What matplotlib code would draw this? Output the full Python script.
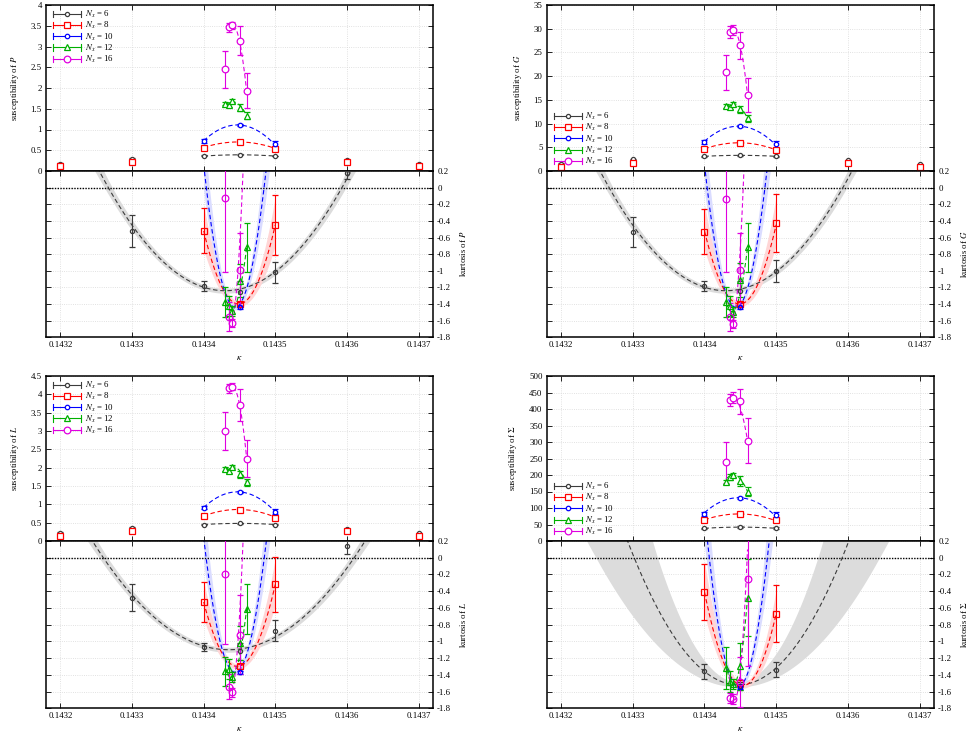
import numpy as np
import matplotlib
matplotlib.use("Agg")
import matplotlib.pyplot as plt
from matplotlib.lines import Line2D
from matplotlib.legend_handler import HandlerBase
from matplotlib.ticker import FixedLocator, FormatStrFormatter

plt.rcParams['font.family'] = ['Liberation Serif', 'DejaVu Serif']
plt.rcParams['mathtext.fontset'] = 'stix'
plt.rcParams['axes.unicode_minus'] = False
plt.rcParams['axes.linewidth'] = 1.1

nan = float("nan")

# ---------------- data ----------------
NX = [6, 8, 10, 12, 16]
K_WIDE = [0.1432, 0.1433, 0.1434, 0.14345, 0.1435, 0.1436, 0.1437]
K_MID = [0.1434, 0.14345, 0.1435]
K_FINE = [0.14343, 0.143435, 0.14344, 0.14345, 0.14346]
XTICKS = [0.1432, 0.1433, 0.1434, 0.1435, 0.1436, 0.1437]
KURT_TICKS = [0.2, 0.0, -0.2, -0.4, -0.6, -0.8, -1.0, -1.2, -1.4, -1.6, -1.8]

# --- P ---
P_SUS_6 = [0.177, 0.297, 0.369, 0.394, 0.361, 0.265, 0.169]
P_SUS_6_ERR = [0.01, 0.012, 0.01, 0.01, 0.01, 0.01, 0.01]
P_SUS_8 = [0.11, 0.22, 0.56, 0.70, 0.54, 0.225, 0.11]
P_SUS_8_ERR = [0.01, 0.02, 0.03, 0.03, 0.03, 0.02, 0.01]
P_SUS_10 = [0.72, 1.11, 0.66]
P_SUS_10_ERR = [0.05, 0.02, 0.07]
P_SUS_12 = [1.62, 1.58, 1.69, 1.53, 1.33]
P_SUS_12_ERR = [0.04, 0.04, 0.04, 0.08, 0.08]
P_SUS_16 = [2.45, 3.46, 3.51, 3.14, 1.93]
P_SUS_16_ERR = [0.44, 0.10, 0.08, 0.35, 0.42]
P_KURT_6 = [nan, -0.52, -1.18, -1.25, -1.02, 0.18, nan]
P_KURT_6_ERR = [0, 0.19, 0.06, 0.13, 0.13, 0.08, 0]
P_KURT_8 = [nan, nan, -0.52, -1.40, -0.45, nan, nan]
P_KURT_8_ERR = [0, 0, 0.27, 0.03, 0.36, 0, 0]
P_KURT_10 = [nan, -1.44, nan]
P_KURT_10_ERR = [0, 0.02, 0]
P_KURT_12 = [-1.38, -1.42, -1.48, -1.12, -0.72]
P_KURT_12_ERR = [0.18, 0.12, 0.06, 0.20, 0.29]
P_KURT_16 = [-0.12, -1.55, -1.63, -0.99, nan]
P_KURT_16_ERR = [0.90, 0.17, 0.05, 0.45, 0]
P_SFIT_KC = [0.14345, 0.143448, 0.143447, 0.14344, 0.14344]
P_SFIT_PEAK = [0.39, 0.70, 1.11, 1.67, 3.53]
P_SFIT_W = [1.8e-4, 1.1e-4, 8.0e-5, 4.5e-5, 2.96e-5]
P_KFIT_KC = [0.14343, 0.143449, 0.143444, 0.143438, 0.143438]
P_KFIT_MIN = [-1.24, -1.40, -1.44, -1.48, -1.63]
P_KFIT_W = [1.63e-4, 6.18e-5, 4.03e-5, 3.07e-5, 1.6e-5]
P_BAND_WLO = [1.575e-4, 5.3e-5, 3.6e-5]
P_BAND_WHI = [1.685e-4, 7.1e-5, 4.46e-5]

# --- G ---
G_SUS_6 = [1.55, 2.5, 3.1, 3.3, 3.1, 2.25, 1.4]
G_SUS_6_ERR = [0.1, 0.1, 0.1, 0.1, 0.1, 0.1, 0.1]
G_SUS_8 = [0.85, 1.76, 4.65, 5.9, 4.44, 1.76, 0.85]
G_SUS_8_ERR = [0.1, 0.15, 0.3, 0.3, 0.3, 0.15, 0.1]
G_SUS_10 = [6.1, 9.44, 5.6]
G_SUS_10_ERR = [0.5, 0.2, 0.7]
G_SUS_12 = [13.7, 13.4, 14.2, 13.0, 11.1]
G_SUS_12_ERR = [0.4, 0.4, 0.4, 0.8, 0.7]
G_SUS_16 = [20.8, 29.3, 29.7, 26.5, 16.1]
G_SUS_16_ERR = [3.7, 1.3, 1.0, 2.9, 3.6]
G_KURT_6 = [nan, -0.53, -1.18, -1.24, -1.00, nan, nan]
G_KURT_6_ERR = [0, 0.18, 0.06, 0.12, 0.13, 0, 0]
G_KURT_8 = [nan, nan, -0.53, -1.40, -0.43, nan, nan]
G_KURT_8_ERR = [0, 0, 0.27, 0.03, 0.35, 0, 0]
G_KURT_10 = [nan, -1.44, nan]
G_KURT_10_ERR = [0, 0.02, 0]
G_KURT_12 = [-1.38, -1.42, -1.49, -1.11, -0.72]
G_KURT_12_ERR = [0.18, 0.12, 0.06, 0.20, 0.29]
G_KURT_16 = [-0.14, -1.56, -1.64, -0.99, nan]
G_KURT_16_ERR = [0.88, 0.17, 0.05, 0.45, 0]
G_SFIT_KC = [0.14345, 0.143448, 0.143447, 0.14344, 0.14344]
G_SFIT_PEAK = [3.3, 5.95, 9.44, 14.2, 29.8]
G_SFIT_W = [2.03e-4, 1.03e-4, 8.1e-5, 4.28e-5, 2.95e-5]
G_KFIT_KC = [0.14343, 0.143449, 0.143444, 0.143438, 0.143438]
G_KFIT_MIN = [-1.24, -1.40, -1.44, -1.49, -1.64]
G_KFIT_W = [1.63e-4, 6.18e-5, 4.03e-5, 3.07e-5, 1.6e-5]
G_BAND_WLO = [1.575e-4, 5.3e-5, 3.6e-5]
G_BAND_WHI = [1.685e-4, 7.1e-5, 4.46e-5]

# --- L ---
L_SUS_6 = [0.23, 0.36, 0.45, 0.48, 0.45, 0.32, 0.21]
L_SUS_6_ERR = [0.01, 0.015, 0.01, 0.01, 0.01, 0.015, 0.01]
L_SUS_8 = [0.15, 0.28, 0.69, 0.85, 0.64, 0.28, 0.15]
L_SUS_8_ERR = [0.01, 0.02, 0.04, 0.03, 0.04, 0.02, 0.01]
L_SUS_10 = [0.91, 1.34, 0.80]
L_SUS_10_ERR = [0.05, 0.02, 0.07]
L_SUS_12 = [1.96, 1.91, 2.03, 1.82, 1.60]
L_SUS_12_ERR = [0.05, 0.05, 0.04, 0.10, 0.10]
L_SUS_16 = [3.00, 4.16, 4.21, 3.71, 2.25]
L_SUS_16_ERR = [0.52, 0.12, 0.10, 0.43, 0.50]
L_KURT_6 = [nan, -0.48, -1.07, -1.12, -0.87, 0.14, nan]
L_KURT_6_ERR = [0, 0.16, 0.05, 0.10, 0.12, 0.09, 0]
L_KURT_8 = [nan, nan, -0.53, -1.30, -0.32, nan, nan]
L_KURT_8_ERR = [0, 0, 0.24, 0.03, 0.33, 0, 0]
L_KURT_10 = [nan, -1.37, nan]
L_KURT_10_ERR = [0, 0.02, 0]
L_KURT_12 = [-1.36, -1.33, -1.43, -1.02, -0.61]
L_KURT_12_ERR = [0.17, 0.12, 0.06, 0.20, 0.30]
L_KURT_16 = [-0.20, -1.54, -1.61, -0.92, nan]
L_KURT_16_ERR = [0.83, 0.15, 0.05, 0.47, 0]
L_SFIT_KC = [0.14345, 0.143448, 0.143447, 0.14344, 0.14344]
L_SFIT_PEAK = [0.48, 0.86, 1.34, 2.03, 4.22]
L_SFIT_W = [2.0e-4, 1.05e-4, 8.3e-5, 4.35e-5, 2.93e-5]
L_KFIT_KC = [0.143435, 0.143447, 0.143444, 0.143438, 0.143438]
L_KFIT_MIN = [-1.10, -1.30, -1.37, -1.43, -1.61]
L_KFIT_W = [1.75e-4, 6.1e-5, 4.06e-5, 2.9e-5, 1.6e-5]
L_BAND_WLO = [1.69e-4, 5.3e-5, 3.62e-5]
L_BAND_WHI = [1.81e-4, 7.0e-5, 4.5e-5]

# --- Sigma ---
S_SUS_6 = [nan, nan, 38, 42, 39, nan, nan]
S_SUS_6_ERR = [0, 0, 2, 2, 2, 0, 0]
S_SUS_8 = [nan, nan, 62.6, 81.8, 62.6, nan, nan]
S_SUS_8_ERR = [0, 0, 5, 4, 5, 0, 0]
S_SUS_10 = [80.8, 131, 78.8]
S_SUS_10_ERR = [6, 3, 9]
S_SUS_12 = [178, 194, 200, 182, 150]
S_SUS_12_ERR = [6, 8, 6, 14, 14]
S_SUS_16 = [238, 428, 434, 424, 304]
S_SUS_16_ERR = [63, 18, 17, 38, 68]
S_KURT_6 = [nan, nan, -1.36, -1.53, -1.34, nan, nan]
S_KURT_6_ERR = [0, 0, 0.09, 0.05, 0.09, 0, 0]
S_KURT_8 = [nan, nan, -0.41, -1.50, -0.67, nan, nan]
S_KURT_8_ERR = [0, 0, 0.34, 0.04, 0.34, 0, 0]
S_KURT_10 = [nan, -1.54, nan]
S_KURT_10_ERR = [0, 0.03, 0]
S_KURT_12 = [-1.32, -1.48, -1.51, -1.30, -0.48]
S_KURT_12_ERR = [0.25, 0.12, 0.06, 0.28, 0.46]
S_KURT_16 = [nan, -1.68, -1.69, -1.49, -0.25]
S_KURT_16_ERR = [0, 0.06, 0.06, 0.30, 1.05]
S_SFIT_KC = [0.14345, 0.143448, 0.143447, 0.14344, 0.14344]
S_SFIT_PEAK = [42, 82, 131, 200, 435]
S_SFIT_W = [1.73e-4, 1.03e-4, 8.0e-5, 4.0e-5, 3.65e-5]
S_KFIT_KC = [0.143447, 0.1434533, 0.1434472, 0.14344, 0.143442]
S_KFIT_MIN = [-1.52, -1.53, -1.54, -1.52, -1.70]
S_KFIT_W = [1.45e-4, 6.23e-5, 4.05e-5, 2.42e-5, 1.75e-5]
S_BAND_WLO = [1.12e-4, 5.4e-5, 3.6e-5]
S_BAND_WHI = [1.98e-4, 7.1e-5, 4.5e-5]

# ---------------- style ----------------
KAPPAS = [K_WIDE, K_WIDE, K_MID, K_FINE, K_FINE]
COLORS = ['#3c3c3c', '#ff0000', '#0000ff', '#00b000', '#e000e0']
MARKERS = ['o', 's', 'o', '^', 'o']
MSIZES = [3.0, 5.0, 3.2, 4.0, 4.8]
BAND_COLORS = ['#dcdcdc', '#ffd6d6', '#dadcff']
SFIT_RANGE = [(0.1434, 0.1435), (0.1434, 0.1435), (0.1434, 0.1435),
              (0.14343, 0.14346), (0.143435, 0.14346)]
KFIT_RANGE = [(0.14318, 0.14372), (0.1434, 0.1435), (0.1434, 0.1435),
              (0.14343, 0.14346), (0.143435, 0.14346)]
XLIM = (0.14318, 0.143720)
FS = 6.3


class GPHandler(HandlerBase):
    def create_artists(self, legend, orig, xd, yd, w, h, fs, trans):
        y = h / 2.0 - yd
        x0, x1 = -xd, -xd + w
        c = orig.get_color()
        cap = 2.2
        arts = [Line2D([x0, x1], [y, y], color=c, lw=0.8),
                Line2D([x0, x0], [y - cap, y + cap], color=c, lw=0.8),
                Line2D([x1, x1], [y - cap, y + cap], color=c, lw=0.8),
                Line2D([(x0 + x1) / 2], [y], ls='none', marker=orig.get_marker(),
                       ms=orig.get_markersize(), mfc='white', mec=c, mew=0.9)]
        for a in arts:
            a.set_transform(trans)
        return arts


def rect(x0, y0, x1, y1):
    return [x0 / 969.0, 1 - y1 / 738.0, (x1 - x0) / 969.0, (y1 - y0) / 738.0]


def style_axes(ax):
    ax.set_xlim(*XLIM)
    ax.xaxis.set_major_locator(FixedLocator(XTICKS))
    ax.xaxis.set_major_formatter(FormatStrFormatter('%.4f'))
    ax.tick_params(direction='in', length=3.5, width=0.6, top=True, right=True,
                   labelsize=FS, pad=3)
    ax.grid(True, color='#d8d8d8', ls=':', lw=0.6)
    ax.set_axisbelow(True)


def panel(fig, x0, x1, yt, ym, yb, sus, sus_err, kurt, kurt_err,
          skc, speak, sw, kkc, kmin, kw, bwlo, bwhi, ymax, ystep, qty, leg):
    axt = fig.add_axes(rect(x0, yt, x1, ym))
    axb = fig.add_axes(rect(x0, ym, x1, yb))
    for ax in (axt, axb):
        style_axes(ax)
    # top: susceptibility
    axt.set_ylim(0, ymax)
    axt.yaxis.set_major_locator(FixedLocator(np.arange(0, ymax + ystep / 2, ystep)))
    axt.yaxis.set_major_formatter(FormatStrFormatter('%g'))
    axt.tick_params(labelbottom=False, labelleft=True, labelright=False)
    axt.set_ylabel('susceptibility of ' + qty, fontsize=FS, labelpad=7)
    handles = []
    for i in range(5):
        lo, hi = SFIT_RANGE[i]
        kk = np.linspace(lo, hi, 200)
        yy = speak[i] * (1 - ((kk - skc[i]) / sw[i]) ** 2)
        axt.plot(kk, yy, ls=(0, (4, 2.5)), color=COLORS[i], lw=0.8, zorder=2)
        axt.errorbar(KAPPAS[i], sus[i], yerr=sus_err[i], fmt=MARKERS[i], color=COLORS[i],
                     ms=MSIZES[i], mfc='white', mec=COLORS[i], mew=0.9,
                     elinewidth=0.8, capsize=2.2, capthick=0.8, zorder=3)
        handles.append(Line2D([], [], color=COLORS[i], marker=MARKERS[i], ms=MSIZES[i]))
    labels = [r'$N_x$ = %d' % n for n in NX]
    common = dict(handler_map={Line2D: GPHandler()}, frameon=False, fontsize=FS,
                  handlelength=3.2, labelspacing=0.0, handletextpad=0.4,
                  borderaxespad=0.15, borderpad=0.3)
    if leg == 'upper':
        axt.legend(handles, labels, loc='upper left', bbox_to_anchor=(0.008, 1.0), **common)
    else:
        axt.legend(handles, labels, loc='lower left', bbox_to_anchor=(0.008, 0.0), **common)
    # bottom: kurtosis
    axb.set_ylim(-1.8, 0.2)
    axb.yaxis.set_major_locator(FixedLocator(KURT_TICKS))
    axb.yaxis.set_major_formatter(FormatStrFormatter('%g'))
    axb.tick_params(labelbottom=True, labelleft=False, labelright=True)
    axb.yaxis.set_label_position('right')
    axb.set_ylabel('kurtosis of ' + qty, fontsize=FS, labelpad=5)
    axb.set_xlabel(r'$\kappa$', fontsize=FS + 0.5, labelpad=3)
    axb.axhline(0.0, color='black', ls=(0, (1, 1)), lw=1.0, zorder=1.5)
    for i in range(5):
        lo, hi = KFIT_RANGE[i]
        kk = np.linspace(lo, hi, 400)
        if i < 3:
            cands = []
            for ww in (bwlo[i], bwhi[i]):
                for mm in (kmin[i] - 0.03, kmin[i] + 0.03):
                    cands.append(mm * (1 - ((kk - kkc[i]) / ww) ** 2))
            cands = np.array(cands)
            axb.fill_between(kk, cands.min(axis=0), cands.max(axis=0),
                             color=BAND_COLORS[i], lw=0, zorder=1)
        yy = kmin[i] * (1 - ((kk - kkc[i]) / kw[i]) ** 2)
        axb.plot(kk, yy, ls=(0, (4, 2.5)), color=COLORS[i], lw=0.8, zorder=2)
        axb.errorbar(KAPPAS[i], kurt[i], yerr=kurt_err[i], fmt=MARKERS[i], color=COLORS[i],
                     ms=MSIZES[i], mfc='none', mec=COLORS[i], mew=0.9,
                     elinewidth=0.8, capsize=2.2, capthick=0.8, zorder=3)


fig = plt.figure(figsize=(9.69, 7.38), dpi=100)

panel(fig, 46, 433, 5, 171, 337.3,
      [P_SUS_6, P_SUS_8, P_SUS_10, P_SUS_12, P_SUS_16],
      [P_SUS_6_ERR, P_SUS_8_ERR, P_SUS_10_ERR, P_SUS_12_ERR, P_SUS_16_ERR],
      [P_KURT_6, P_KURT_8, P_KURT_10, P_KURT_12, P_KURT_16],
      [P_KURT_6_ERR, P_KURT_8_ERR, P_KURT_10_ERR, P_KURT_12_ERR, P_KURT_16_ERR],
      P_SFIT_KC, P_SFIT_PEAK, P_SFIT_W, P_KFIT_KC, P_KFIT_MIN, P_KFIT_W,
      P_BAND_WLO, P_BAND_WHI, 4.0, 0.5, '$P$', 'upper')

panel(fig, 546.7, 934, 5, 171, 337.3,
      [G_SUS_6, G_SUS_8, G_SUS_10, G_SUS_12, G_SUS_16],
      [G_SUS_6_ERR, G_SUS_8_ERR, G_SUS_10_ERR, G_SUS_12_ERR, G_SUS_16_ERR],
      [G_KURT_6, G_KURT_8, G_KURT_10, G_KURT_12, G_KURT_16],
      [G_KURT_6_ERR, G_KURT_8_ERR, G_KURT_10_ERR, G_KURT_12_ERR, G_KURT_16_ERR],
      G_SFIT_KC, G_SFIT_PEAK, G_SFIT_W, G_KFIT_KC, G_KFIT_MIN, G_KFIT_W,
      G_BAND_WLO, G_BAND_WHI, 35.0, 5.0, '$G$', 'lower')

panel(fig, 46, 433, 376, 541, 708.3,
      [L_SUS_6, L_SUS_8, L_SUS_10, L_SUS_12, L_SUS_16],
      [L_SUS_6_ERR, L_SUS_8_ERR, L_SUS_10_ERR, L_SUS_12_ERR, L_SUS_16_ERR],
      [L_KURT_6, L_KURT_8, L_KURT_10, L_KURT_12, L_KURT_16],
      [L_KURT_6_ERR, L_KURT_8_ERR, L_KURT_10_ERR, L_KURT_12_ERR, L_KURT_16_ERR],
      L_SFIT_KC, L_SFIT_PEAK, L_SFIT_W, L_KFIT_KC, L_KFIT_MIN, L_KFIT_W,
      L_BAND_WLO, L_BAND_WHI, 4.5, 0.5, '$L$', 'upper')

panel(fig, 546.7, 934, 376, 541, 708.3,
      [S_SUS_6, S_SUS_8, S_SUS_10, S_SUS_12, S_SUS_16],
      [S_SUS_6_ERR, S_SUS_8_ERR, S_SUS_10_ERR, S_SUS_12_ERR, S_SUS_16_ERR],
      [S_KURT_6, S_KURT_8, S_KURT_10, S_KURT_12, S_KURT_16],
      [S_KURT_6_ERR, S_KURT_8_ERR, S_KURT_10_ERR, S_KURT_12_ERR, S_KURT_16_ERR],
      S_SFIT_KC, S_SFIT_PEAK, S_SFIT_W, S_KFIT_KC, S_KFIT_MIN, S_KFIT_W,
      S_BAND_WLO, S_BAND_WHI, 500.0, 50.0, r'$\Sigma$', 'lower')

fig.savefig('out.png', dpi=100)
